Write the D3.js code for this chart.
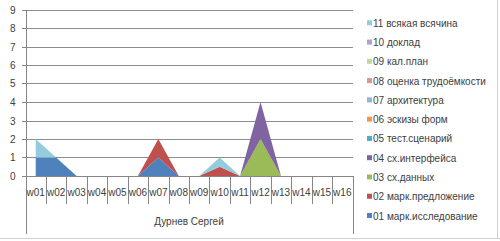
<!doctype html>
<html lang="en">
<head>
  <meta charset="utf-8">
  <title>area</title>
  <style>
    body { margin: 0; background: #fff; }
    svg { display: block; font-family: "Liberation Sans", "DejaVu Sans", sans-serif; }
    .axis text { font-size: 10px; fill: #404040; }
    .axis path, .axis line { stroke: #868686; shape-rendering: crispEdges; }
    .grid line { stroke: #8c8c8c; shape-rendering: crispEdges; }
    .legend text { font-size: 10px; fill: #404040; }
  </style>
</head>
<body>
  <div class="chart"></div>
  <script src="https://d3js.org/d3.v7.min.js"></script>
  <script>
    'use strict';

    const weeks = ['w01','w02','w03','w04','w05','w06','w07','w08','w09','w10','w11','w12','w13','w14','w15','w16'];
    const group = 'Дурнев Сергей';
    const seriesNames = ['01 марк.исследование','02 марк.предложение','03 сх.данных','04 сх.интерфейса',
      '05 тест.сценарий','06 эскизы форм','07 архитектура','08 оценка трудоёмкости',
      '09 кал.план','10 доклад','11 всякая всячина'];
    const seriesColors = ['#4f81bd','#c0504d','#9bbb59','#8064a2','#4bacc6','#f79646',
      '#95b3d7','#d99694','#c3d69b','#b3a2c7','#93cddd'];

    // values per week, w01..w16
    const s01 = [1, 1, 0, 0, 0, 0, 1, 0, 0, 0,   0, 0, 0, 0, 0, 0];
    const s02 = [0, 0, 0, 0, 0, 0, 1, 0, 0, 0.5, 0, 0, 0, 0, 0, 0];
    const s03 = [0, 0, 0, 0, 0, 0, 0, 0, 0, 0,   0, 2, 0, 0, 0, 0];
    const s04 = [0, 0, 0, 0, 0, 0, 0, 0, 0, 0,   0, 2, 0, 0, 0, 0];
    const s05 = [0, 0, 0, 0, 0, 0, 0, 0, 0, 0,   0, 0, 0, 0, 0, 0];
    const s06 = [0, 0, 0, 0, 0, 0, 0, 0, 0, 0,   0, 0, 0, 0, 0, 0];
    const s07 = [0, 0, 0, 0, 0, 0, 0, 0, 0, 0,   0, 0, 0, 0, 0, 0];
    const s08 = [0, 0, 0, 0, 0, 0, 0, 0, 0, 0,   0, 0, 0, 0, 0, 0];
    const s09 = [0, 0, 0, 0, 0, 0, 0, 0, 0, 0,   0, 0, 0, 0, 0, 0];
    const s10 = [0, 0, 0, 0, 0, 0, 0, 0, 0, 0,   0, 0, 0, 0, 0, 0];
    const s11 = [1, 0, 0, 0, 0, 0, 0, 0, 0, 0.5, 0, 0, 0, 0, 0, 0];
    const yTicks = [0,1,2,3,4,5,6,7,8,9];

    const allSeries = [s01,s02,s03,s04,s05,s06,s07,s08,s09,s10,s11];
    const rows = weeks.map((w, i) => {
      const r = {week: w};
      seriesNames.forEach((n, j) => { r[n] = allSeries[j][i]; });
      return r;
    });

    const width = 500, height = 241;
    const plot = {left: 25.5, right: 352.5, top: 9.5, bottom: 176};

    const svg = d3.select('.chart').append('svg')
      .attr('width', width)
      .attr('height', height);

    svg.append('rect').attr('width', width).attr('height', height).attr('fill', '#fff');

    const x = d3.scaleBand().domain(weeks).range([plot.left, plot.right]);
    const y = d3.scaleLinear().domain([0, 9]).range([plot.bottom, plot.top]);

    // gridlines
    svg.append('g').attr('class', 'grid')
      .selectAll('line')
      .data(yTicks.slice(1))
      .join('line')
      .attr('x1', plot.left)
      .attr('x2', plot.right)
      .attr('y1', d => Math.round(y(d)) + 0.5)
      .attr('y2', d => Math.round(y(d)) + 0.5);

    // stacked areas
    const stack = d3.stack().keys(seriesNames);
    const layers = stack(rows);
    const area = d3.area()
      .x(d => x(d.data.week) + x.bandwidth() / 2)
      .y0(d => y(d[0]))
      .y1(d => y(d[1]));

    svg.append('g')
      .selectAll('path')
      .data(layers)
      .join('path')
      .attr('fill', (d, i) => seriesColors[i])
      .attr('d', area);

    // y axis
    const yAxis = svg.append('g')
      .attr('class', 'axis')
      .attr('transform', `translate(${plot.left},0)`)
      .call(d3.axisLeft(y).tickValues(yTicks).tickFormat(d3.format('d')).tickSize(4).tickSizeOuter(0));
    yAxis.selectAll('.tick').attr('transform', d => `translate(0,${Math.round(y(d)) + 0.5})`);
    yAxis.selectAll('text').attr('x', -10);

    // x axis (two levels)
    const xg = svg.append('g').attr('class', 'axis');
    xg.append('line')
      .attr('x1', plot.left).attr('x2', plot.right)
      .attr('y1', plot.bottom + 0.5).attr('y2', plot.bottom + 0.5);
    xg.selectAll('.sep')
      .data(weeks.slice(1))
      .join('line')
      .attr('class', 'sep')
      .attr('x1', d => Math.round(x(d)) + 0.5)
      .attr('x2', d => Math.round(x(d)) + 0.5)
      .attr('y1', plot.bottom)
      .attr('y2', 204);
    xg.selectAll('.edge')
      .data([plot.left, plot.right])
      .join('line')
      .attr('class', 'edge')
      .attr('x1', d => Math.round(d) + 0.5)
      .attr('x2', d => Math.round(d) + 0.5)
      .attr('y1', plot.bottom)
      .attr('y2', 234);
    xg.selectAll('.wk')
      .data(weeks)
      .join('text')
      .attr('class', 'wk')
      .attr('x', d => x(d) + x.bandwidth() / 2)
      .attr('y', 196)
      .attr('text-anchor', 'middle')
      .text(d => d);
    xg.append('text')
      .attr('x', (plot.left + plot.right) / 2)
      .attr('y', 225)
      .attr('text-anchor', 'middle')
      .text(group);

    // legend, top entry is the last series
    const legendRows = seriesNames.map((n, i) => ({name: n, color: seriesColors[i]})).reverse();
    const leg = svg.append('g').attr('class', 'legend')
      .selectAll('g')
      .data(legendRows)
      .join('g')
      .attr('transform', (d, i) => `translate(367,${23.3 + i * 19.27})`);
    leg.append('rect')
      .attr('x', 0).attr('y', -3)
      .attr('width', 5).attr('height', 5)
      .attr('fill', d => d.color);
    leg.append('text')
      .attr('x', 6)
      .attr('y', 3.5)
      .text(d => d.name);

    // outer frame pieces
    svg.append('line')
      .attr('x1', 497.5).attr('x2', 497.5).attr('y1', 0).attr('y2', 238)
      .attr('stroke', '#d0d0d0');
    svg.append('line')
      .attr('x1', 0).attr('x2', 500).attr('y1', 238.5).attr('y2', 238.5)
      .attr('stroke', '#d0d0d0');
  </script>
</body>
</html>
